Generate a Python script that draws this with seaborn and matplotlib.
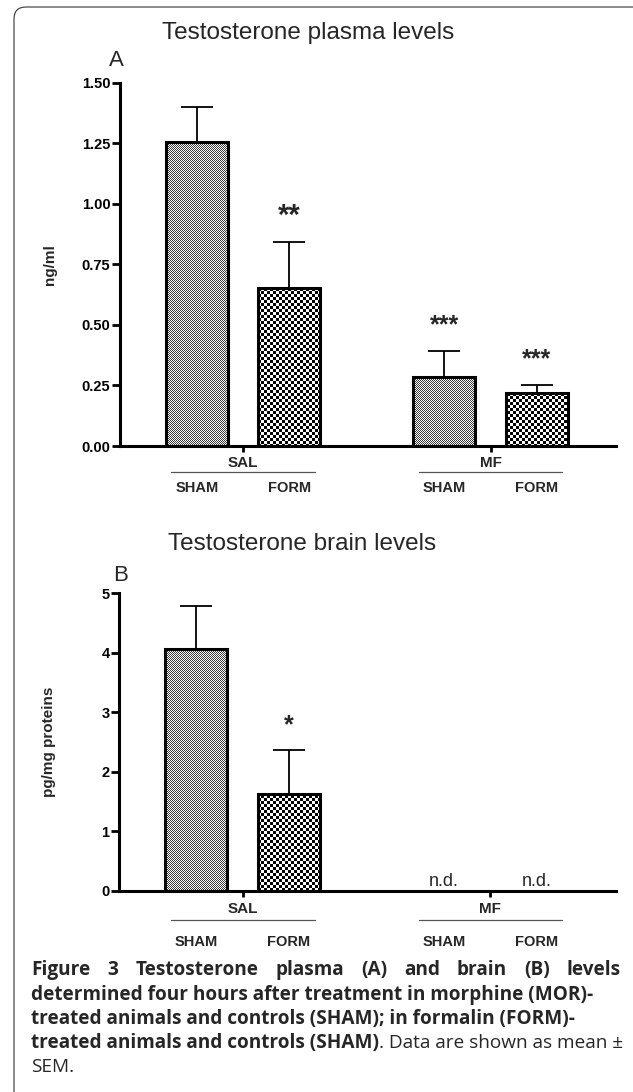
"""
Figura 3: testosterona no plasma (A) e no cérebro (B)
Barras com textura quadriculada, erro padrão só para cima
"""

import numpy as np
import pandas as pd
import matplotlib
matplotlib.use('Agg')
import matplotlib.pyplot as plt
import matplotlib.colors as mcolors
import seaborn as sns
from matplotlib.patches import FancyBboxPatch
from matplotlib.transforms import IdentityTransform, blended_transform_factory, offset_copy

# Dados
tratamentos = ['SAL', 'SAL', 'MF', 'MF']
cirurgias = ['SHAM', 'FORM', 'SHAM', 'FORM']
ordem_trat = ['SAL', 'MF']
ordem_cir = ['SHAM', 'FORM']

plasma_media = [1.256, 0.651, 0.284, 0.218]
plasma_sem = [0.145, 0.190, 0.110, 0.035]
plasma_sig = ['', '**', '***', '***']
plasma_ticks = [0.00, 0.25, 0.50, 0.75, 1.00, 1.25, 1.50]

cerebro_media = [4.06, 1.62, np.nan, np.nan]
cerebro_sem = [0.725, 0.745, np.nan, np.nan]
cerebro_sig = ['', '*', 'n.d.', 'n.d.']
cerebro_ticks = [0, 1, 2, 3, 4, 5]

W, H = 633, 1092
LARGURA = 0.748
TAM_SIG = {'*': 18, '**': 21, '***': 18}

sns.set_style('ticks')
plt.rcParams['font.family'] = ['Liberation Sans', 'DejaVu Sans']

fig = plt.figure(figsize=(W / 100, H / 100), dpi=100)
fig.patch.set_facecolor('white')


def eixos_px(esq, topo, dir_, base):
    return fig.add_axes([esq / W, 1 - base / H, (dir_ - esq) / W, (base - topo) / H])


def textura(periodo, escuro, claro):
    yy, xx = np.mgrid[0:H, 0:W]
    cheq = ((xx // periodo + yy // periodo) % 2).astype(bool)
    img = np.empty((H, W, 3))
    img[cheq] = mcolors.to_rgb(escuro)
    img[~cheq] = mcolors.to_rgb(claro)
    return img


texturas = {'SHAM': textura(1, '#383838', '#ffffff'),
            'FORM': textura(3, '#000000', '#ffffff')}


def painel(ax, media, sem, sig, ticks, fmt, ylabel, ymax, desloc):
    df = pd.DataFrame({'tratamento': tratamentos, 'cirurgia': cirurgias,
                       'media': media, 'sem': sem})
    sns.barplot(data=df, x='tratamento', y='media', hue='cirurgia',
                order=ordem_trat, hue_order=ordem_cir, palette=['white', 'white'],
                width=LARGURA, gap=0.33, errorbar=None, saturation=1,
                edgecolor='black', linewidth=2.2, legend=False, ax=ax)
    ax.set_facecolor('none')

    pos = np.array([ordem_trat.index(t) + (ordem_cir.index(c) - 0.5) * LARGURA / 2
                    for t, c in zip(tratamentos, cirurgias)])

    # textura quadriculada recortada em cada barra
    for p in ax.patches:
        p.set_facecolor('none')
        centro = p.get_x() + p.get_width() / 2
        i = int(np.argmin(np.abs(pos - centro)))
        im = fig.figimage(texturas[cirurgias[i]], xo=0, yo=0, origin='lower', zorder=-1)
        im.set_clip_path(p)

    ok = ~np.isnan(np.array(media, dtype=float))
    ax.errorbar(pos[ok], np.array(media)[ok],
                yerr=[np.zeros(ok.sum()), np.array(sem)[ok]],
                fmt='none', ecolor='black', elinewidth=1.3, capsize=11.4,
                capthick=1.3, zorder=5)

    for i, s in enumerate(sig):
        if s == 'n.d.':
            tr = offset_copy(ax.transData, fig=fig, y=5, units='dots')
            ax.text(pos[i], 0, s, transform=tr, ha='center', va='baseline',
                    fontsize=13)
        elif s:
            tr = offset_copy(ax.transData, fig=fig, y=18, units='dots')
            ax.text(pos[i], media[i] + sem[i], s, transform=tr, ha='center',
                    va='baseline', fontsize=TAM_SIG[s], fontweight='bold')

    ax.set_xlim(-0.498, 1.507)
    ax.set_ylim(0, ymax)
    ax.set_yticks(ticks)
    ax.set_yticklabels([fmt.format(t) for t in ticks], fontweight='bold', fontsize=10.5)
    ax.set_xticks([0, 1])
    ax.set_xticklabels([])
    ax.tick_params(axis='y', length=5.5, width=2, pad=1.5, colors='black')
    ax.tick_params(axis='x', length=4, width=2, colors='black')
    sns.despine(ax=ax)
    for lado in ['left', 'bottom']:
        ax.spines[lado].set_linewidth(2.2)
        ax.spines[lado].set_color('black')

    ax.set_xlabel('')
    ax.set_ylabel(ylabel, fontweight='bold', fontsize=11)
    ax.yaxis.set_label_coords(-70 / 496, 0.5)
    ax.yaxis.label.set_verticalalignment('center')

    # rótulos de grupo e subgrupo abaixo do eixo
    mistura = blended_transform_factory(ax.transData, ax.transAxes)
    d_grupo, d_linha, d_sub = desloc
    for g, nome in enumerate(ordem_trat):
        ax.text(g, 0, nome, transform=offset_copy(mistura, fig=fig, y=-d_grupo, units='dots'),
                ha='center', va='center', fontsize=11, fontweight='bold')
        ax.plot([g - 0.29, g + 0.29], [0, 0], color='#555555', lw=0.9, clip_on=False,
                transform=offset_copy(mistura, fig=fig, y=-d_linha, units='dots'))
    for i, c in enumerate(cirurgias):
        ax.text(pos[i], 0, c, transform=offset_copy(mistura, fig=fig, y=-d_sub, units='dots'),
                ha='center', va='center', fontsize=10.5, fontweight='bold')


ax_a = eixos_px(120, 82.7, 616, 446)
painel(ax_a, plasma_media, plasma_sem, plasma_sig, plasma_ticks, '{:.2f}', 'ng/ml',
       1.5, (17, 26, 42))

ax_b = eixos_px(119.3, 593.3, 616, 890.7)
painel(ax_b, cerebro_media, cerebro_sem, cerebro_sig, cerebro_ticks, '{:d}',
       'pg/mg proteins', 5, (18, 29, 51))

# títulos e letras dos painéis
fig.text(308 / W, 1 - 32.5 / H, 'Testosterone plasma levels', ha='center', va='center', fontsize=17.5)
fig.text(116 / W, 1 - 61 / H, 'A', ha='center', va='center', fontsize=16)
fig.text(302 / W, 1 - 544 / H, 'Testosterone brain levels', ha='center', va='center', fontsize=17.5)
fig.text(121 / W, 1 - 575.6 / H, 'B', ha='center', va='center', fontsize=16)

# moldura arredondada
moldura = FancyBboxPatch((14, -30), 700, 1085 + 30, boxstyle='round,pad=0,rounding_size=12',
                         transform=IdentityTransform(), fill=False, lw=0.8, ec='#333333')
fig.add_artist(moldura)

# legenda da figura (texto)
renderer = fig.canvas.get_renderer()


def largura_px(texto, **kw):
    t = fig.text(0, 0, texto, **kw)
    w = t.get_window_extent(renderer).width
    t.remove()
    return w


negrito = dict(family=['Open Sans', 'DejaVu Sans'], fontweight='bold')
normal = dict(family=['Open Sans', 'DejaVu Sans'])
x0, x1 = 31, 621
bases = [975, 1000, 1024, 1048, 1072]

# tamanho ajustado para a linha 4 terminar na margem direita
parte_b = 'treated animals and controls (SHAM)'
parte_n = '. Data are shown as mean \u00b1'
w12 = largura_px(parte_b, fontsize=12, **negrito) + largura_px(parte_n, fontsize=12, **normal)
tam = 12 * (x1 - x0) / w12

palavras = 'Figure 3 Testosterone plasma (A) and brain (B) levels'.split()
larguras = [largura_px(p, fontsize=tam, **negrito) for p in palavras]
espaco = (x1 - x0 - sum(larguras)) / (len(palavras) - 1)
x = x0
for p, w in zip(palavras, larguras):
    fig.text(x / W, 1 - bases[0] / H, p, fontsize=tam, va='baseline', **negrito)
    x += w + espaco

fig.text(x0 / W, 1 - bases[1] / H, 'determined four hours after treatment in morphine (MOR)-',
         fontsize=tam, va='baseline', **negrito)
fig.text(x0 / W, 1 - bases[2] / H, 'treated animals and controls (SHAM); in formalin (FORM)-',
         fontsize=tam, va='baseline', **negrito)
fig.text(x0 / W, 1 - bases[3] / H, parte_b, fontsize=tam, va='baseline', **negrito)
wb = largura_px(parte_b, fontsize=tam, **negrito)
fig.text((x0 + wb) / W, 1 - bases[3] / H, parte_n, fontsize=tam, va='baseline', **normal)
fig.text(x0 / W, 1 - bases[4] / H, 'SEM.', fontsize=tam, va='baseline', **normal)

fig.savefig('out.png', dpi=100)
